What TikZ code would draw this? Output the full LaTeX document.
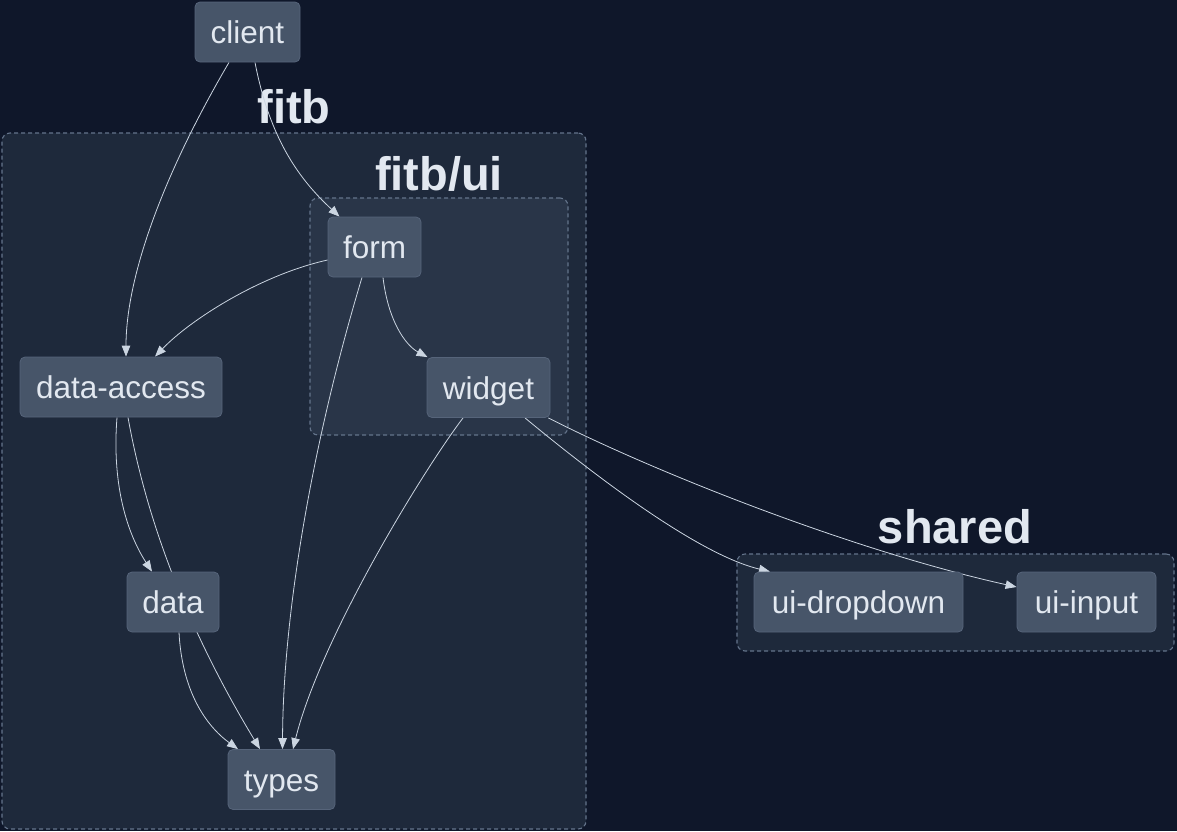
\documentclass[tikz,border=0pt]{standalone}
\usepackage{fontspec}
\setmainfont{Liberation Sans}
\usetikzlibrary{arrows.meta}
\definecolor{bg}{HTML}{0F172A}
\definecolor{grp}{HTML}{1E293B}
\definecolor{grpin}{HTML}{293548}
\definecolor{nodefill}{HTML}{475569}
\definecolor{nodeline}{HTML}{56647A}
\definecolor{txt}{HTML}{E2E8F0}
\definecolor{edgec}{HTML}{CBD5E1}
\definecolor{dashc}{HTML}{64748B}
\pgfdeclarelayer{grplayer}
\pgfdeclarelayer{edgelayer}
\pgfsetlayers{grplayer,edgelayer,main}
\begin{document}
\begin{tikzpicture}[x=1pt,y=-1pt,
  box/.style={draw=nodeline, line width=0.8pt, fill=nodefill, rounded corners=5pt, text=txt, font=\fontsize{31.5}{36}\selectfont, inner sep=0pt, anchor=center, minimum height=60pt, text height=23pt, text depth=0pt},
  grpbox/.style={draw=dashc, line width=1.1pt, dash pattern=on 4pt off 3pt, rounded corners=8pt, inner sep=0pt, anchor=center},
  glabel/.style={text=txt, font=\fontsize{47}{50}\selectfont\bfseries, anchor=base, inner sep=0pt},
  conn/.style={draw=edgec, line width=0.8pt, -{Triangle[length=11pt,width=8.5pt]}}
]
\begin{pgfonlayer}{grplayer}
\fill[bg] (0,0) rectangle (1177,831);
\node[grpbox, fill=grp, minimum width=584pt, minimum height=696pt] (gfitb) at (294,481) {};
\node[grpbox, fill=grpin, minimum width=258pt, minimum height=237pt] (gui) at (439,316.5) {};
\node[grpbox, fill=grp, minimum width=437pt, minimum height=97pt] (gshared) at (955.5,602.5) {};
\node[glabel] (lfitb) at (294,123) {fitb};
\node[glabel] (lui) at (439,190) {fitb/ui};
\node[glabel] (lshared) at (955,543) {shared};
\end{pgfonlayer}
\useasboundingbox (0,0) rectangle (1177,831);

\node[box, minimum width=105pt] (client) at (247.5,32) {client};
\node[box, minimum width=93pt] (form) at (374.5,247) {form};
\node[box, minimum width=123pt] (widget) at (488.5,387.5) {widget};
\node[box, minimum width=202pt] (da) at (121,387) {data-access};
\node[box, minimum width=92pt] (data) at (173,602) {data};
\node[box, minimum width=107pt] (types) at (281.5,779.5) {types};
\node[box, minimum width=209pt] (drop) at (858.5,602) {ui-dropdown};
\node[box, minimum width=139pt] (input) at (1086.5,602) {ui-input};

\begin{pgfonlayer}{edgelayer}
\draw[conn] ([xshift=-18.5pt]client.south) .. controls (160,180) and (126,280) .. ([xshift=5pt]da.north);
\draw[conn] ([xshift=7.5pt]client.south) .. controls (270,140) and (300,180) .. ([xshift=-35pt]form.north);
\draw[conn] ([yshift=-13pt]form.west) .. controls (260,275) and (190,320) .. ([xshift=34pt]da.north);
\draw[conn] ([xshift=-12.5pt]form.south) .. controls (310,450) and (283,620) .. ([xshift=1pt]types.north);
\draw[conn] ([xshift=8.5pt]form.south) .. controls (388,320) and (405,345) .. ([xshift=-61pt]widget.north);
\draw[conn] ([xshift=-4pt]da.south) .. controls (112,480) and (125,530) .. ([xshift=-21pt]data.north);
\draw[conn] ([xshift=7pt]da.south) .. controls (150,540) and (200,650) .. ([xshift=-21.5pt]types.north);
\draw[conn] ([xshift=6pt]data.south) .. controls (182,690) and (205,725) .. ([xshift=-43.5pt]types.north);
\draw[conn] ([xshift=-25.5pt]widget.south) .. controls (420,475) and (320,640) .. ([xshift=11.5pt]types.north);
\draw[conn] ([xshift=36.5pt]widget.south) .. controls (600,480) and (700,555) .. ([xshift=-88.5pt]drop.north);
\draw[conn] ([xshift=-2pt]widget.south east) .. controls (650,470) and (850,550) .. ([yshift=15pt]input.west);
\end{pgfonlayer}
\end{tikzpicture}
\end{document}
